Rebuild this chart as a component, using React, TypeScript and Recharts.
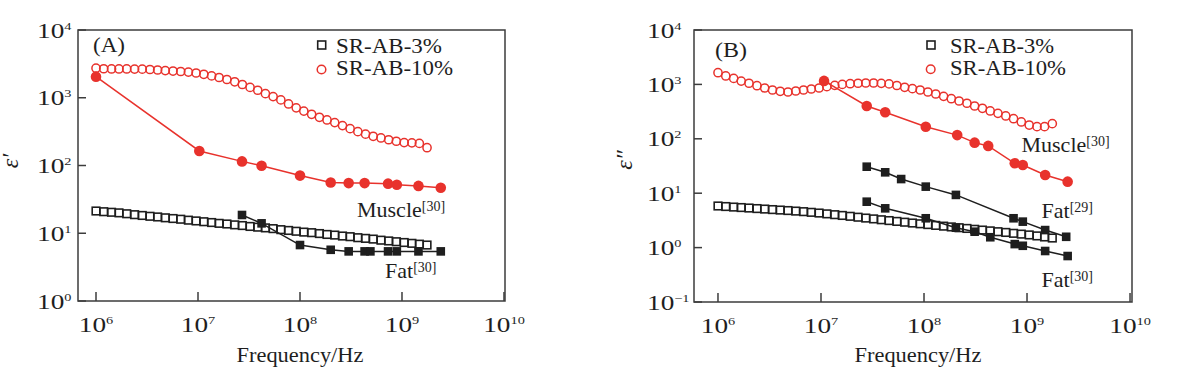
import { ScatterChart, Scatter, XAxis, YAxis, ReferenceArea } from "recharts";

const FONT = "Liberation Serif, Times New Roman, serif";
const RED = "#e8322c";
const INK = "#1e1e1e";
const AXIS = "#3c3c3c";

// sweep frequencies (Hz) of the SR-AB measurements
const freq = [
  1.0e6, 1.19e6, 1.42e6, 1.68e6, 2.0e6, 2.39e6, 2.84e6, 3.38e6, 4.02e6, 4.78e6, 5.69e6,
  6.77e6, 8.05e6, 9.58e6, 1.14e7, 1.36e7, 1.61e7, 1.92e7, 2.29e7, 2.72e7, 3.24e7, 3.85e7,
  4.58e7, 5.45e7, 6.49e7, 7.72e7, 9.18e7, 1.09e8, 1.3e8, 1.55e8, 1.84e8, 2.19e8, 2.61e8,
  3.1e8, 3.69e8, 4.39e8, 5.22e8, 6.22e8, 7.4e8, 8.8e8, 1.05e9, 1.25e9, 1.48e9, 1.76e9,
];

// (A) real part
const srAB3Real = [
  21.3, 20.8, 20.4, 20.0, 19.4, 18.8, 18.3, 17.8, 17.4, 16.9, 16.5, 16.1, 15.6, 15.2, 14.8,
  14.4, 14.0, 13.7, 13.3, 13.0, 12.6, 12.3, 12.0, 11.7, 11.3, 11.0, 10.7, 10.4, 10.2, 9.9,
  9.6, 9.4, 9.1, 8.9, 8.6, 8.4, 8.2, 7.9, 7.7, 7.5, 7.3, 7.1, 6.9, 6.7,
];
const srAB10Real = [
  2730, 2680, 2660, 2660, 2660, 2650, 2640, 2610, 2570, 2520, 2480, 2440, 2390, 2320, 2220,
  2100, 1990, 1860, 1720, 1570, 1420, 1290, 1150, 1040, 930, 810, 710, 635, 570, 515, 470,
  430, 388, 350, 316, 290, 270, 255, 240, 228, 218, 216, 212, 183,
];
const muscleRealFreq = [1e6, 1.03e7, 2.7e7, 4.2e7, 1e8, 2e8, 3e8, 4.3e8, 7.3e8, 8.9e8, 1.45e9, 2.4e9];
const muscleReal = [2050, 164, 115, 99, 71, 56, 55, 55, 54, 52, 50, 47];
const fatRealFreq = [2.7e7, 4.2e7, 1e8, 2e8, 3e8, 4.3e8, 4.9e8, 7.3e8, 8.9e8, 1.45e9, 2.4e9];
const fatReal = [18.6, 14, 6.7, 5.7, 5.4, 5.4, 5.4, 5.4, 5.4, 5.4, 5.4];

// (B) imaginary part
const srAB3Loss = [
  5.82, 5.69, 5.56, 5.45, 5.34, 5.22, 5.11, 5.0, 4.9, 4.8, 4.69, 4.58, 4.45, 4.32, 4.17, 4.03,
  3.9, 3.76, 3.62, 3.49, 3.37, 3.25, 3.14, 3.03, 2.93, 2.83, 2.74, 2.65, 2.56, 2.48, 2.4,
  2.32, 2.25, 2.17, 2.1, 2.03, 1.96, 1.9, 1.83, 1.77, 1.71, 1.64, 1.57, 1.5,
];
const srAB10Loss = [
  1640, 1430, 1290, 1150, 1050, 946, 858, 789, 747, 725, 756, 789, 823, 858, 908, 962, 1000,
  1030, 1050, 1060, 1060, 1045, 1020, 955, 885, 834, 789, 725, 666, 604, 546, 495, 450, 401,
  364, 325, 294, 263, 234, 204, 179, 167, 167, 190,
];
const muscleLossFreq = [1.07e7, 2.78e7, 4.2e7, 1.04e8, 2.1e8, 3.1e8, 4.2e8, 7.6e8, 9.1e8, 1.5e9, 2.48e9];
const muscleLoss = [1160, 401, 307, 167, 117, 85, 74, 35.5, 33, 21.6, 16.3];
const fat29LossFreq = [2.78e7, 4.2e7, 6.0e7, 1.04e8, 2.04e8, 7.4e8, 9.1e8, 1.5e9, 2.4e9];
const fat29Loss = [30.7, 24.2, 18.2, 13.2, 9.3, 3.46, 3.0, 2.1, 1.58];
const fat30LossFreq = [2.78e7, 4.2e7, 1.04e8, 2.04e8, 3.1e8, 4.4e8, 7.6e8, 9.1e8, 1.5e9, 2.48e9];
const fat30Loss = [6.98, 5.27, 3.46, 2.32, 1.96, 1.55, 1.16, 1.08, 0.866, 0.7];

const xTicks = [1e6, 1e7, 1e8, 1e9, 1e10];
const yTicksReal = [1, 10, 100, 1000, 10000];
const yTicksLoss = [0.1, 1, 10, 100, 1000, 10000];
const seriesNames = ["SR-AB-3%", "SR-AB-10%"];

const pts = (xs: number[], ys: number[]) => xs.map((x, i) => ({ x, y: ys[i] }));

const expOf = (v: number) => {
  const e = Math.round(Math.log10(v));
  return e < 0 ? `\u2212${-e}` : `${e}`;
};

// markers
const openSquare = (p: any) => (
  <rect x={p.cx - 3.8} y={p.cy - 3.8} width={7.6} height={7.6} fill="none" stroke={INK} strokeWidth={1.6} />
);
const openCircle = (p: any) => <circle cx={p.cx} cy={p.cy} r={4.1} fill="none" stroke={RED} strokeWidth={1.5} />;
const redDot = (p: any) => <circle cx={p.cx} cy={p.cy} r={5.3} fill={RED} />;
const blackBlock = (p: any) => <rect x={p.cx - 4.3} y={p.cy - 4.3} width={8.6} height={8.6} fill={INK} />;

// ticks point inward, labels in a wide serif
const XTick = (p: any) => (
  <g>
    <line x1={p.x} x2={p.x} y1={p.y} y2={p.y - 9} stroke={AXIS} strokeWidth={1.5} />
    <text
      transform={`translate(${p.x} ${p.y + 31}) scale(1.3 1)`}
      textAnchor="middle"
      fontFamily={FONT}
      fontSize={21}
      fill={INK}
    >
      10<tspan dy={-8} fontSize={11}>{expOf(p.payload.value)}</tspan>
    </text>
  </g>
);

const makeYTick = (inset: number) => (p: any) => (
  <g>
    <line x1={p.x} x2={p.x + 8} y1={p.y} y2={p.y} stroke={AXIS} strokeWidth={1.5} />
    <text transform={`translate(${p.x - inset} ${p.y + 7.5}) scale(1.3 1)`} fontFamily={FONT} fontSize={21} fill={INK}>
      10<tspan dy={-8} fontSize={11}>{expOf(p.payload.value)}</tspan>
    </text>
  </g>
);

const domA: [number, number] = [6.66e5, 1.023e10];
const domB: [number, number] = [5.85e5, 1.045e10];
const refLine = { stroke: RED, strokeWidth: 1.5 };
const refLineBlack = { stroke: INK, strokeWidth: 1.5 };

function Notes() {
  const t = { fontFamily: FONT, fill: INK };
  return (
    <svg width={1177} height={372} style={{ position: "absolute", left: 0, top: 0, pointerEvents: "none" }}>
      {/* panel A */}
      <text x={93} y={52} fontSize={21} textLength={32} lengthAdjust="spacingAndGlyphs" {...t}>(A)</text>
      <rect x={317.7} y={41} width={8} height={8} fill="none" stroke={INK} strokeWidth={1.6} />
      <text x={336} y={52.5} fontSize={22} textLength={106} lengthAdjust="spacingAndGlyphs" {...t}>{seriesNames[0]}</text>
      <circle cx={321.5} cy={69.5} r={4.3} fill="none" stroke={RED} strokeWidth={1.5} />
      <text x={336} y={75} fontSize={22} textLength={117} lengthAdjust="spacingAndGlyphs" {...t}>{seriesNames[1]}</text>
      <text x={357} y={217.3} fontSize={22} {...t}>
        Muscle<tspan dy={-6} fontSize={14}>[30]</tspan>
      </text>
      <text x={385} y={278.3} fontSize={22} {...t}>
        Fat<tspan dy={-6} fontSize={14}>[30]</tspan>
      </text>
      <text x={300} y={362} textAnchor="middle" fontSize={20} textLength={127} lengthAdjust="spacingAndGlyphs" {...t}>
        Frequency/Hz
      </text>
      <text transform="translate(18 161) rotate(-90)" textAnchor="middle" fontSize={24} fontStyle="italic" {...t}>
        ε′
      </text>

      {/* panel B */}
      <text x={715} y={56.5} fontSize={21} textLength={32} lengthAdjust="spacingAndGlyphs" {...t}>(B)</text>
      <rect x={927} y={41} width={8} height={8} fill="none" stroke={INK} strokeWidth={1.6} />
      <text x={950} y={52.5} fontSize={22} textLength={104} lengthAdjust="spacingAndGlyphs" {...t}>{seriesNames[0]}</text>
      <circle cx={930.7} cy={69.3} r={4.3} fill="none" stroke={RED} strokeWidth={1.5} />
      <text x={950} y={75} fontSize={22} textLength={116} lengthAdjust="spacingAndGlyphs" {...t}>{seriesNames[1]}</text>
      <text x={1021.5} y={151.7} fontSize={22} {...t}>
        Muscle<tspan dy={-6} fontSize={14}>[30]</tspan>
      </text>
      <text x={1041.5} y={217.7} fontSize={22} {...t}>
        Fat<tspan dy={-6} fontSize={14}>[29]</tspan>
      </text>
      <text x={1041.5} y={287.3} fontSize={22} {...t}>
        Fat<tspan dy={-6} fontSize={14}>[30]</tspan>
      </text>
      <text x={918} y={362} textAnchor="middle" fontSize={20} textLength={127} lengthAdjust="spacingAndGlyphs" {...t}>
        Frequency/Hz
      </text>
      <text transform="translate(632 160) rotate(-90)" textAnchor="middle" fontSize={24} fontStyle="italic" {...t}>
        ε″
      </text>
    </svg>
  );
}

export default function App() {
  return (
    <div style={{ position: "absolute", left: 0, top: 0, width: 1177, height: 372, background: "#fff" }}>
      {/* (A) real permittivity */}
      <div style={{ position: "absolute", left: 0, top: 0 }}>
        <ScatterChart width={590} height={372} margin={{ top: 30, right: 85, bottom: 0, left: 0 }}>
          <XAxis
            type="number"
            dataKey="x"
            scale="log"
            domain={domA}
            allowDataOverflow
            ticks={xTicks}
            interval={0}
            tick={XTick}
            tickLine={false}
            tickSize={0}
            tickMargin={0}
            axisLine={false}
            height={71}
          />
          <YAxis
            type="number"
            dataKey="y"
            scale="log"
            domain={[1, 10000]}
            allowDataOverflow
            ticks={yTicksReal}
            interval={0}
            tick={makeYTick(41)}
            tickLine={false}
            tickSize={0}
            tickMargin={0}
            axisLine={false}
            width={78}
          />
          <ReferenceArea x1={domA[0]} x2={domA[1]} y1={1} y2={10000} fill="none" stroke={AXIS} strokeWidth={1.5} />
          <Scatter name={seriesNames[0]} data={pts(freq, srAB3Real)} shape={openSquare} isAnimationActive={false} />
          <Scatter name={seriesNames[1]} data={pts(freq, srAB10Real)} shape={openCircle} isAnimationActive={false} />
          <Scatter name="Muscle" data={pts(muscleRealFreq, muscleReal)} shape={redDot} line={refLine} isAnimationActive={false} />
          <Scatter name="Fat" data={pts(fatRealFreq, fatReal)} shape={blackBlock} line={refLineBlack} isAnimationActive={false} />
        </ScatterChart>
      </div>

      {/* (B) imaginary permittivity */}
      <div style={{ position: "absolute", left: 590, top: 0 }}>
        <ScatterChart width={587} height={372} margin={{ top: 30, right: 45, bottom: 0, left: 0 }}>
          <XAxis
            type="number"
            dataKey="x"
            scale="log"
            domain={domB}
            allowDataOverflow
            ticks={xTicks}
            interval={0}
            tick={XTick}
            tickLine={false}
            tickSize={0}
            tickMargin={0}
            axisLine={false}
            height={70}
          />
          <YAxis
            type="number"
            dataKey="y"
            scale="log"
            domain={[0.1, 10000]}
            allowDataOverflow
            ticks={yTicksLoss}
            interval={0}
            tick={makeYTick(47)}
            tickLine={false}
            tickSize={0}
            tickMargin={0}
            axisLine={false}
            width={104}
          />
          <ReferenceArea x1={domB[0]} x2={domB[1]} y1={0.1} y2={10000} fill="none" stroke={AXIS} strokeWidth={1.5} />
          <Scatter name={seriesNames[0]} data={pts(freq, srAB3Loss)} shape={openSquare} isAnimationActive={false} />
          <Scatter name={seriesNames[1]} data={pts(freq, srAB10Loss)} shape={openCircle} isAnimationActive={false} />
          <Scatter name="Muscle" data={pts(muscleLossFreq, muscleLoss)} shape={redDot} line={refLine} isAnimationActive={false} />
          <Scatter name="Fat29" data={pts(fat29LossFreq, fat29Loss)} shape={blackBlock} line={refLineBlack} isAnimationActive={false} />
          <Scatter name="Fat30" data={pts(fat30LossFreq, fat30Loss)} shape={blackBlock} line={refLineBlack} isAnimationActive={false} />
        </ScatterChart>
      </div>

      <Notes />
    </div>
  );
}
